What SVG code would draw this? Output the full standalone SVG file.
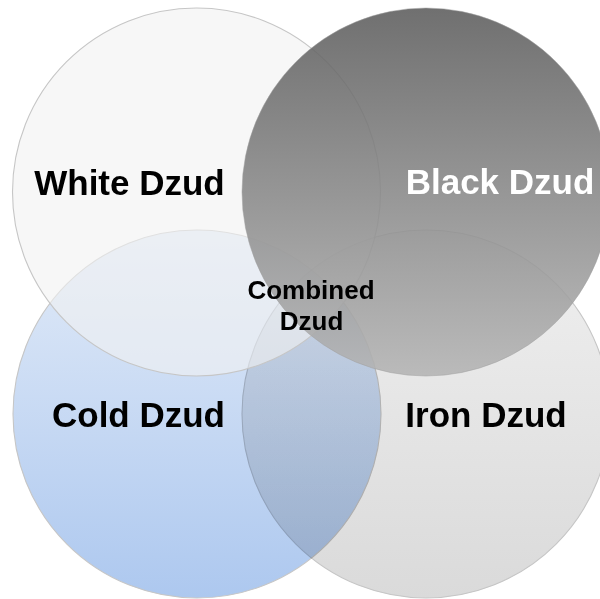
<svg xmlns="http://www.w3.org/2000/svg" width="600" height="599" viewBox="0 0 600 599">
  <defs>
    <linearGradient id="gCold" x1="0" y1="0" x2="0" y2="1">
      <stop offset="0" stop-color="#e2ebf8"/>
      <stop offset="1" stop-color="#adc8ef"/>
    </linearGradient>
    <linearGradient id="gIron" x1="0" y1="0" x2="0" y2="1">
      <stop offset="0" stop-color="#f0f0f0"/>
      <stop offset="1" stop-color="#dadada"/>
    </linearGradient>
    <linearGradient id="gBlack" x1="0" y1="0" x2="0" y2="1">
      <stop offset="0" stop-color="#5c5c5c"/>
      <stop offset="1" stop-color="#b4b4b4"/>
    </linearGradient>
  </defs>
  <style>
    .c { stroke: #c6c6c6; stroke-width: 1.1; }
    .t { font-family: "Liberation Sans", Arial, sans-serif; font-weight: bold; text-anchor: middle; }
    .big { font-size: 35px; }
    .small { font-size: 26px; }
  </style>
  <rect width="600" height="599" fill="#ffffff"/>
  <g id="cold">
    <circle class="c" cx="197" cy="414" r="184" fill="url(#gCold)"/>
  </g>
  <g id="iron">
    <circle class="c" cx="426" cy="414" r="184" fill="url(#gIron)" style="mix-blend-mode:multiply"/>
  </g>
  <g id="white">
    <circle class="c" cx="196.5" cy="192" r="184" fill="#f2f2f2" fill-opacity="0.6"/>
  </g>
  <g id="black">
    <circle cx="426" cy="192" r="184" fill="url(#gBlack)" fill-opacity="0.88" stroke="#a0a0a0" stroke-width="1" stroke-opacity="0.5"/>
  </g>
  <g id="connectors"></g>
  <g id="labels">
    <text class="t big" x="129.5" y="195" fill="#000000">White Dzud</text>
    <text class="t big" x="500" y="194" fill="#ffffff">Black Dzud</text>
    <text class="t big" x="138.5" y="427" fill="#000000">Cold Dzud</text>
    <text class="t big" x="486" y="427" fill="#000000">Iron Dzud</text>
    <text class="t small" x="311" y="299" fill="#000000">Combined</text>
    <text class="t small" x="311.5" y="330" fill="#000000">Dzud</text>
  </g>
</svg>
